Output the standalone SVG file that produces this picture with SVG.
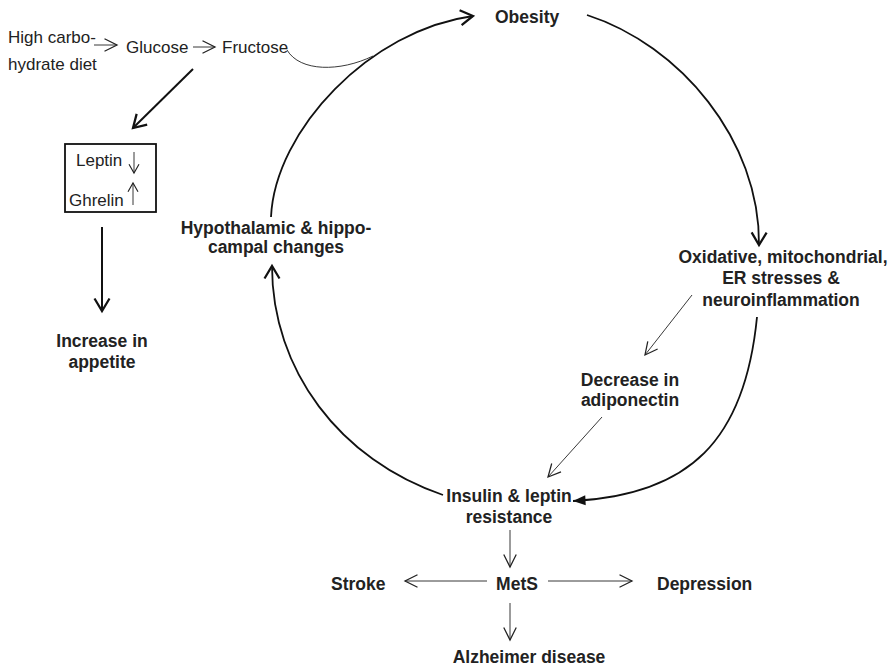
<svg xmlns="http://www.w3.org/2000/svg" width="893" height="669" viewBox="0 0 893 669">
<defs>
<style>
text{font-family:"Liberation Sans",Arial,Helvetica,sans-serif;fill:#222}
.n{font-size:17px}
.b{font-size:17.5px;font-weight:bold}
.c{text-anchor:middle}
.arc{fill:none;stroke:#111;stroke-width:1.8}
.thin{fill:none;stroke:#222;stroke-width:0.9}
.thick{fill:none;stroke:#111;stroke-width:2}
</style>
<marker id="open" markerUnits="userSpaceOnUse" markerWidth="20" markerHeight="20" refX="0" refY="0" viewBox="-12 -8 14 16" orient="auto" overflow="visible">
<path d="M-10,-6 L0,0 L-10,6" fill="none" stroke="#111" stroke-width="1.8"/>
</marker>
<marker id="openthin" markerUnits="userSpaceOnUse" markerWidth="20" markerHeight="20" refX="0" refY="0" viewBox="-12 -8 14 16" orient="auto" overflow="visible">
<path d="M-10,-5 L0,0 L-10,5" fill="none" stroke="#222" stroke-width="1"/>
</marker>
<marker id="opensmall" markerUnits="userSpaceOnUse" markerWidth="20" markerHeight="20" refX="0" refY="0" viewBox="-12 -8 14 16" orient="auto" overflow="visible">
<path d="M-7,-4 L0,0 L-7,4" fill="none" stroke="#222" stroke-width="0.9"/>
</marker>
<marker id="filled" markerUnits="userSpaceOnUse" markerWidth="20" markerHeight="20" refX="0" refY="0" viewBox="-12 -8 14 16" orient="auto" overflow="visible">
<path d="M-10,-4 L0,0 L-10,4 z" fill="#111" stroke="none"/>
</marker>
</defs>
<rect width="893" height="669" fill="#fff"/>

<g id="connectors">
<line class="thin" x1="94" y1="45" x2="117" y2="45" marker-end="url(#openthin)"/>
<line class="thin" x1="193" y1="47" x2="215" y2="47" marker-end="url(#openthin)"/>
<path class="thin" d="M287,50 C300,72 340,72 373,56"/>
<line class="thick" x1="193" y1="69" x2="133" y2="128" marker-end="url(#open)"/>
<line class="thick" x1="102" y1="227" x2="102" y2="311" marker-end="url(#open)"/>
<path class="arc" d="M271,217 C275,130 370,30 473,16" marker-end="url(#open)"/>
<path class="arc" d="M587,15 C680,45 760,140 759,245" marker-end="url(#open)"/>
<path class="arc" d="M757,317 C745,440 690,495 573,501" marker-end="url(#filled)"/>
<path class="arc" d="M443,495 C340,460 272,370 272,266" marker-end="url(#open)"/>
<line class="thin" x1="692" y1="295" x2="645" y2="355" marker-end="url(#openthin)"/>
<line class="thin" x1="602" y1="417" x2="548" y2="477" marker-end="url(#openthin)"/>
<line class="thin" x1="510" y1="530" x2="510" y2="567" marker-end="url(#openthin)"/>
<line class="thin" x1="487" y1="581" x2="405" y2="581" marker-end="url(#openthin)"/>
<line class="thin" x1="548" y1="581" x2="632" y2="581" marker-end="url(#openthin)"/>
<line class="thin" x1="510" y1="603" x2="510" y2="640" marker-end="url(#openthin)"/>
</g>

<g id="diet"><text class="n" x="8" y="43">High carbo-</text><text class="n" x="8" y="70">hydrate diet</text></g>
<g id="glucose"><text class="n" x="126" y="53">Glucose</text></g>
<g id="fructose"><text class="n" x="222" y="53">Fructose</text></g>

<g id="hormones">
<rect x="65" y="144" width="91" height="68" fill="none" stroke="#111" stroke-width="1.8"/>
<text class="n" x="76" y="166">Leptin</text>
<text class="n" x="69" y="206">Ghrelin</text>
<line class="thin" x1="134" y1="152" x2="134" y2="173" marker-end="url(#opensmall)"/>
<line class="thin" x1="133" y1="205" x2="133" y2="183" marker-end="url(#opensmall)"/>
</g>

<g id="appetite"><text class="b c" x="102" y="347">Increase in</text><text class="b c" x="102" y="368">appetite</text></g>
<g id="obesity"><text class="b" x="495" y="23">Obesity</text></g>
<g id="stress">
<text class="b c" x="783" y="263">Oxidative, mitochondrial,</text>
<text class="b c" x="781" y="284">ER stresses &amp;</text>
<text class="b c" x="781" y="306">neuroinflammation</text>
</g>
<g id="adiponectin"><text class="b c" x="630" y="386">Decrease in</text><text class="b c" x="630" y="406">adiponectin</text></g>
<g id="insulin"><text class="b c" x="509" y="502">Insulin &amp; leptin</text><text class="b c" x="509" y="523">resistance</text></g>
<g id="hypothalamic"><text class="b c" x="276" y="234">Hypothalamic &amp; hippo-</text><text class="b c" x="276" y="253">campal changes</text></g>
<g id="mets"><text class="b c" x="517" y="590">MetS</text></g>
<g id="stroke"><text class="b" x="331" y="590">Stroke</text></g>
<g id="depression"><text class="b" x="657" y="590">Depression</text></g>
<g id="alzheimer"><text class="b c" x="529" y="663">Alzheimer disease</text></g>
</svg>
